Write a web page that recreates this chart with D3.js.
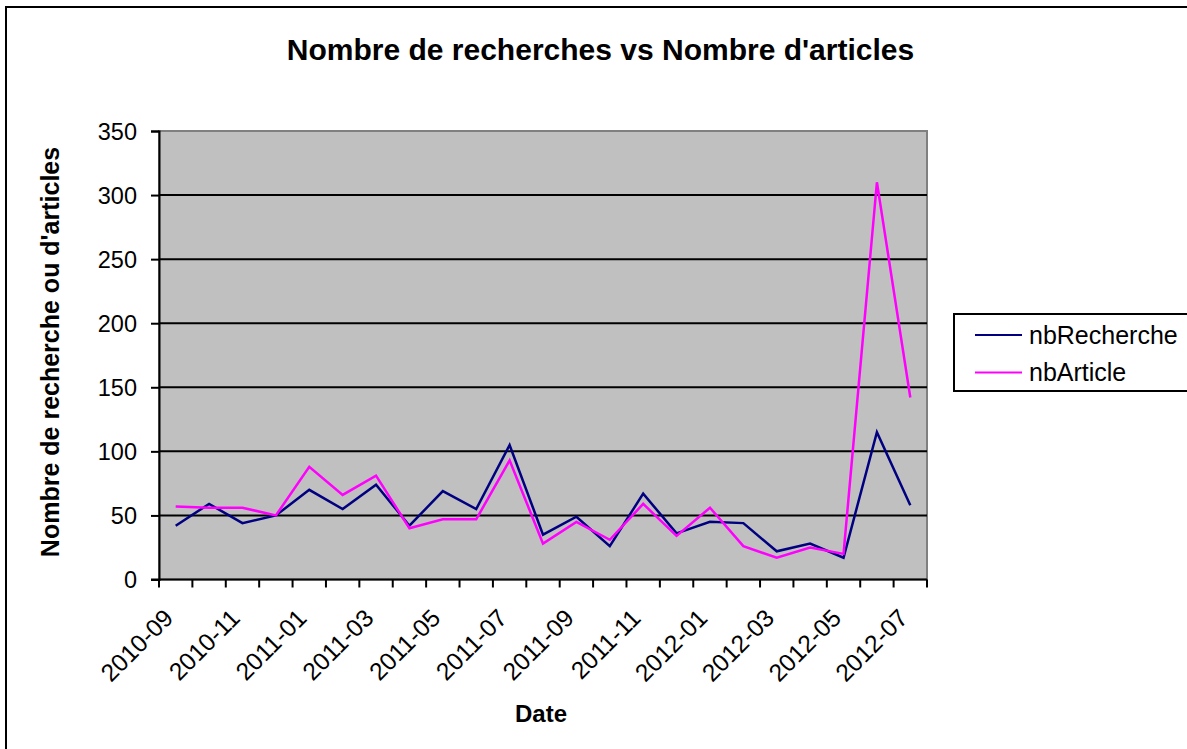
<!DOCTYPE html>
<html>
<head>
<meta charset="utf-8">
<script src="https://cdn.jsdelivr.net/npm/d3@7"></script>
<style>
  html, body { margin: 0; padding: 0; background: #fff; }
  svg { display: block; }
  text { font-family: "Liberation Sans", Arial, sans-serif; fill: #000; }
</style>
</head>
<body>
<svg id="chart" width="1187" height="749"></svg>
<script>
const months = ["2010-09","2010-10","2010-11","2010-12","2011-01","2011-02","2011-03","2011-04","2011-05","2011-06","2011-07","2011-08","2011-09","2011-10","2011-11","2011-12","2012-01","2012-02","2012-03","2012-04","2012-05","2012-06","2012-07"];
const nbRecherche = [42,59,44,50,70,55,74,42,69,55,105,35,49,26,67,36,45,44,22,28,17,115,58];
const nbArticle   = [57,56,56,50,88,66,81,40,47,47,93,28,45,31,59,34,56,26,17,25,20,310,142];
const yTicks = [0,50,100,150,200,250,300,350];
const xLabels = months.filter((m, i) => i % 2 === 0);
const seriesNames = ["nbRecherche", "nbArticle"];
const seriesColors = ["#000080", "#FF00FF"];

const svg = d3.select("#chart");
const plot = { left: 159, right: 927, top: 131, bottom: 579.5 };

// outer chart border
svg.append("rect").attr("x", 6).attr("y", 7).attr("width", 1300).attr("height", 900)
  .attr("fill", "#fff").attr("stroke", "#000").attr("stroke-width", 2);

const x = d3.scaleBand().domain(months).range([plot.left, plot.right]).padding(0);
const y = d3.scaleLinear().domain([0, 350]).range([plot.bottom, plot.top]);

// plot area
svg.append("rect").attr("x", plot.left).attr("y", plot.top)
  .attr("width", plot.right - plot.left).attr("height", plot.bottom - plot.top)
  .attr("fill", "#C0C0C0").attr("stroke", "#808080").attr("stroke-width", 2);

// gridlines
svg.append("g").selectAll("line").data(yTicks.filter(v => v > 0 && v < 350)).join("line")
  .attr("x1", plot.left).attr("x2", plot.right)
  .attr("y1", d => y(d)).attr("y2", d => y(d))
  .attr("stroke", "#000").attr("stroke-width", 2);

// y axis
const yAxis = svg.append("g").attr("transform", `translate(${plot.left},0)`)
  .call(d3.axisLeft(y).tickValues(yTicks).tickSize(8).tickPadding(14).tickFormat(d3.format("d")));
yAxis.select(".domain").attr("stroke", "#000").attr("stroke-width", 2);
yAxis.selectAll(".tick line").attr("stroke", "#000").attr("stroke-width", 2);
yAxis.selectAll(".tick text").attr("font-size", 23.5).attr("font-family", "Liberation Sans, Arial, sans-serif").attr("fill", "#000").attr("dy", "0.36em");

// x axis: ticks at category boundaries
const boundaries = months.map(m => x(m)).concat([plot.right]);
svg.append("g").selectAll("line").data(boundaries).join("line")
  .attr("x1", d => d).attr("x2", d => d)
  .attr("y1", plot.bottom).attr("y2", plot.bottom + 8)
  .attr("stroke", "#000").attr("stroke-width", 2);
svg.append("line").attr("x1", plot.left - 8).attr("x2", plot.right)
  .attr("y1", plot.bottom).attr("y2", plot.bottom)
  .attr("stroke", "#000").attr("stroke-width", 2);

// x labels
svg.append("g").selectAll("text").data(xLabels).join("text")
  .attr("transform", d => `translate(${x(d) + x.bandwidth() / 2 - 1},${plot.bottom + 40}) rotate(-45)`)
  .attr("text-anchor", "end")
  .attr("font-size", 24.5)
  .text(d => d);

// lines
const series = [nbRecherche, nbArticle];
const line = d3.line().x((d, i) => x(months[i]) + x.bandwidth() / 2).y(d => y(d));
svg.append("g").selectAll("path").data(series).join("path")
  .attr("d", d => line(d))
  .attr("fill", "none")
  .attr("stroke", (d, i) => seriesColors[i])
  .attr("stroke-width", 2.5)
  .attr("stroke-linejoin", "miter");

// title
svg.append("text").attr("x", 600.5).attr("y", 60).attr("text-anchor", "middle")
  .attr("font-size", 30).attr("font-weight", "bold")
  .text("Nombre de recherches vs Nombre d'articles");

// y title
svg.append("text").attr("transform", `translate(59,352) rotate(-90)`)
  .attr("text-anchor", "middle").attr("font-size", 25).attr("font-weight", "bold")
  .text("Nombre de recherche ou d'articles");

// x title
svg.append("text").attr("x", 541).attr("y", 722).attr("text-anchor", "middle")
  .attr("font-size", 24).attr("font-weight", "bold").text("Date");

// legend
const lg = svg.append("g");
lg.append("rect").attr("x", 954).attr("y", 314).attr("width", 300).attr("height", 77)
  .attr("fill", "#fff").attr("stroke", "#000").attr("stroke-width", 2);
const items = lg.selectAll("g").data(seriesNames).join("g")
  .attr("transform", (d, i) => `translate(0,${335 + i * 37.5})`);
items.append("line").attr("x1", 975).attr("x2", 1022).attr("y1", 0).attr("y2", 0)
  .attr("stroke", (d, i) => seriesColors[i]).attr("stroke-width", 2);
items.append("text").attr("x", 1029).attr("y", 8.5).attr("font-size", 25).text(d => d);
</script>
</body>
</html>
